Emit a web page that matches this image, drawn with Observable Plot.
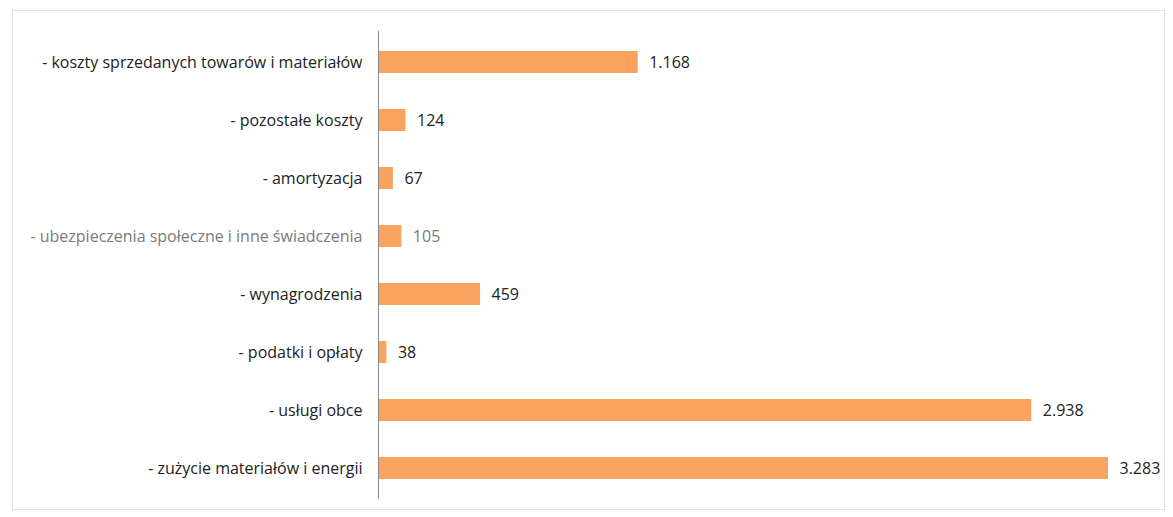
<!DOCTYPE html>
<html><head><meta charset="utf-8">
<script src="https://cdn.jsdelivr.net/npm/d3@7"></script>
<script src="https://cdn.jsdelivr.net/npm/@observablehq/plot@0.6"></script>
<style>
body{margin:0;background:#fff;font-family:"Open Sans",sans-serif;}
#wrap{position:relative;width:1173px;height:517px;}
#frame{position:absolute;left:12px;top:10px;width:1153px;height:500px;border:1px solid #e2e2e2;box-sizing:border-box;pointer-events:none;}
</style></head>
<body><div id="wrap"><div id="frame"></div></div>
<script>
const categories = [
  "- koszty sprzedanych towarów i materiałów",
  "- pozostałe koszty",
  "- amortyzacja",
  "- ubezpieczenia społeczne i inne świadczenia",
  "- wynagrodzenia",
  "- podatki i opłaty",
  "- usługi obce",
  "- zużycie materiałów i energii"
];
const values = [1168, 124, 67, 105, 459, 38, 2938, 3283];
const valueLabels = ["1.168", "124", "67", "105", "459", "38", "2.938", "3.283"];
const muted = "- ubezpieczenia społeczne i inne świadczenia";

const data = categories.map((c, i) => ({cat: c, value: values[i], label: valueLabels[i]}));

const chart = Plot.plot({
  width: 1173, height: 517,
  marginLeft: 378, marginRight: 65, marginTop: 31, marginBottom: 18,
  style: {fontFamily: "'Open Sans', sans-serif", background: "transparent"},
  x: {domain: [0, 3283], axis: null},
  y: {domain: categories, paddingInner: 0.62, paddingOuter: 0.31, axis: null},
  marks: [
    Plot.barX(data, {y: "cat", x: "value", fill: "#F9A35F"}),
    Plot.ruleX([0], {stroke: "#8a8a8a", strokeWidth: 1}),
    Plot.text(data, {y: "cat", x: 0, text: "cat", textAnchor: "end", dx: -16,
      fontSize: 16, fill: d => d.cat === muted ? "#7a7a7a" : "#222"}),
    Plot.text(data, {y: "cat", x: "value", text: "label", textAnchor: "start", dx: 11,
      fontSize: 16, fill: d => d.cat === muted ? "#7a7a7a" : "#222"})
  ]
});
chart.style.position = "absolute"; chart.style.left = "0"; chart.style.top = "0";
document.getElementById("wrap").appendChild(chart);
</script></body></html>
